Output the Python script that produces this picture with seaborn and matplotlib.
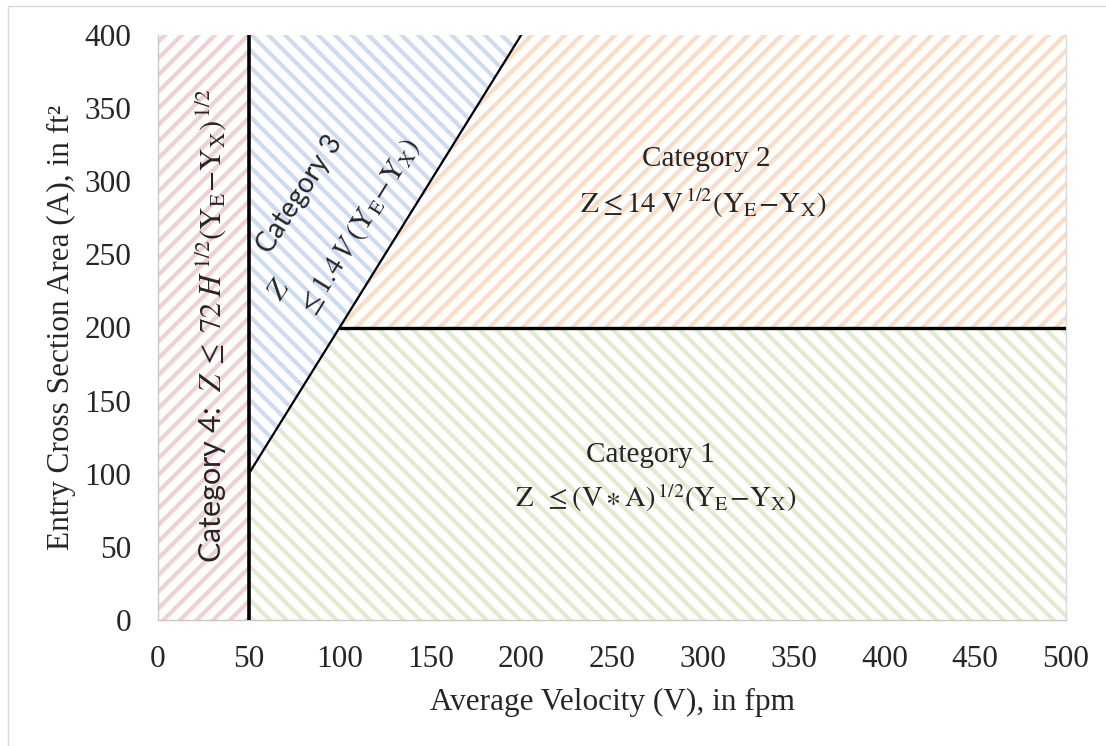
import matplotlib
matplotlib.use("Agg")
import matplotlib.pyplot as plt
import seaborn as sns
import pandas as pd
from matplotlib.patches import Rectangle

# ---- data ----
x_limits = [0, 500]
y_limits = [0, 400]
x_ticks = [0, 50, 100, 150, 200, 250, 300, 350, 400, 450, 500]
y_ticks = [0, 50, 100, 150, 200, 250, 300, 350, 400]

# region polygons (V, A)
cat4_x = [0, 50, 50, 0]
cat4_y = [0, 0, 400, 400]
cat3_x = [50, 50, 200]
cat3_y = [100, 400, 400]
cat2_x = [100, 200, 500, 500]
cat2_y = [200, 400, 400, 200]
cat1_x = [50, 50, 100, 500, 500]
cat1_y = [0, 100, 200, 200, 0]

# boundary lines
vert_x = [50, 50]
vert_y = [0, 400]
diag_x = [50, 200]
diag_y = [100, 400]
horz_x = [100, 500]
horz_y = [200, 200]

region_colors = {"cat4": "#f3d0d0", "cat3": "#cddcf0", "cat2": "#fddcc4", "cat1": "#e2ebd0"}

sns.set_theme(style="white")
plt.rcParams["font.family"] = ["Liberation Serif", "DejaVu Serif"]
plt.rcParams["mathtext.fontset"] = "stix"
plt.rcParams["hatch.linewidth"] = 3.0

fig = plt.figure(figsize=(11.06, 7.46), dpi=100)
ax = fig.add_axes([158 / 1106, 1 - 620 / 746, 908 / 1106, 585 / 746])

# outer chart border
fig.patches.append(Rectangle((8 / 1106, -0.1), 1.2, (1 - 6 / 746) + 0.1, transform=fig.transFigure,
                             fill=False, edgecolor="#d9d9d9", linewidth=1.0))

for xs, ys, key, h in [(cat4_x, cat4_y, "cat4", "//"), (cat3_x, cat3_y, "cat3", "\\\\"),
                       (cat2_x, cat2_y, "cat2", "//"), (cat1_x, cat1_y, "cat1", "\\\\")]:
    ax.fill(xs, ys, facecolor="white", edgecolor=region_colors[key], hatch=h, linewidth=0, zorder=1)

lines = pd.concat([
    pd.DataFrame({"V": vert_x, "A": vert_y, "seg": "vert"}),
    pd.DataFrame({"V": diag_x, "A": diag_y, "seg": "diag"}),
    pd.DataFrame({"V": horz_x, "A": horz_y, "seg": "horz"}),
])
widths = {"vert": 2.6, "diag": 1.6, "horz": 2.4}
for seg, d in lines.groupby("seg"):
    sns.lineplot(data=d, x="V", y="A", estimator=None, sort=False, color="black",
                 linewidth=widths[seg], ax=ax, zorder=3)

ax.set_xlim(x_limits)
ax.set_ylim(y_limits)
ax.set_xticks(x_ticks)
ax.set_yticks(y_ticks)
ax.tick_params(axis="x", length=0, pad=18, labelsize=22.5)
ax.tick_params(axis="y", length=0, pad=19, labelsize=22.5)
ax.spines["top"].set_visible(False)
for s in ["left", "bottom", "right"]:
    ax.spines[s].set_color("#c8c8c8")
    ax.spines[s].set_linewidth(1.0)
    ax.spines[s].set_zorder(2)
ax.spines["right"].set_color("#dadada")

ax.set_xlabel("Average Velocity (V), in fpm", fontsize=22.5, labelpad=10)
ax.set_ylabel("Entry Cross Section Area (A), in ft²", fontsize=22.5, labelpad=6)

sans = ["Lato", "DejaVu Sans"]
# Category 4
ax.text(29.5, 39, r"Category 4:  $Z\;\leq\;72\;H^{\,1/2}(\mathrm{Y_E}\!-\!\mathrm{Y_X})^{\,1/2}$",
        rotation=90, ha="left", va="center", fontsize=22, family=sans, zorder=4,
        rotation_mode="anchor")
# Category 3
ax.text(78, 291, "Category 3", rotation=57, ha="center", va="center", fontsize=20,
        family=sans, zorder=4, rotation_mode="anchor")
ax.text(67, 226, r"$Z$", rotation=57, ha="center", va="center", fontsize=21, zorder=4,
        rotation_mode="anchor")
ax.text(111, 268, r"$\leq 1.4\,V\;(\mathrm{Y_E}\!-\!\mathrm{Y_X})$", rotation=58, ha="center",
        va="center", fontsize=21, zorder=4, rotation_mode="anchor")
# Category 2
ax.text(302, 315, "Category 2", ha="center", va="center", fontsize=21, zorder=4)
ax.text(300.5, 285, r"$\mathrm{Z} \leq 14\;\mathrm{V}^{\,1/2}(\mathrm{Y_E}\!-\!\mathrm{Y_X})$",
        ha="center", va="center", fontsize=21, zorder=4)
# Category 1
ax.text(271, 113, "Category 1", ha="center", va="center", fontsize=21, zorder=4)
ax.text(274, 83.5, r"$\mathrm{Z}\;\;\leq (\mathrm{V} \ast \mathrm{A})^{\,1/2}(\mathrm{Y_E}\!-\!\mathrm{Y_X})$",
        ha="center", va="center", fontsize=20.5, zorder=4)

fig.savefig("out.png", dpi=100)
